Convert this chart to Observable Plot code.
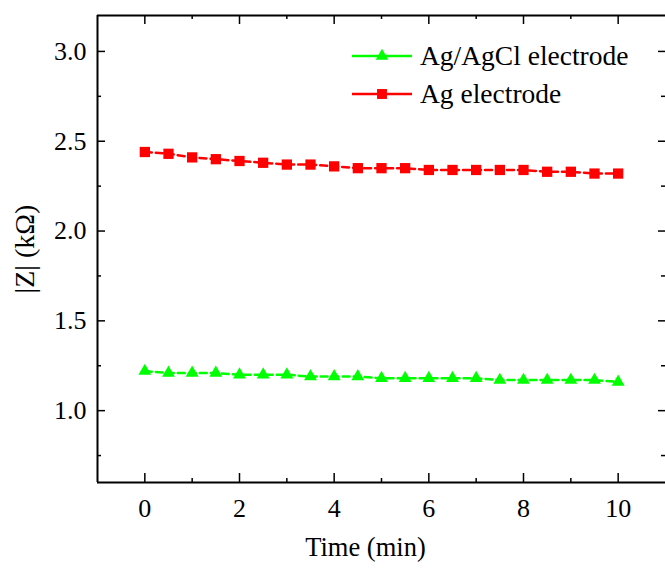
<!DOCTYPE html>
<html><head><meta charset="utf-8">
<script src="https://cdn.jsdelivr.net/npm/d3@7"></script>
<script src="https://cdn.jsdelivr.net/npm/@observablehq/plot@0.6"></script>
<style>
body{margin:0;background:#fff}
#wrap{position:relative;width:665px;height:568px}
#legend{position:absolute;left:0;top:0;pointer-events:none}
#wrap svg, #wrap svg text{font-family:"Liberation Serif","Times New Roman",serif !important;}
</style>
</head><body><div id="wrap"></div>
<script>
const time = [0,0.5,1,1.5,2,2.5,3,3.5,4,4.5,5,5.5,6,6.5,7,7.5,8,8.5,9,9.5,10];
const agagcl = [1.22,1.21,1.21,1.21,1.20,1.20,1.20,1.19,1.19,1.19,1.18,1.18,1.18,1.18,1.18,1.17,1.17,1.17,1.17,1.17,1.16];
const ag = [2.44,2.43,2.41,2.40,2.39,2.38,2.37,2.37,2.36,2.35,2.35,2.35,2.34,2.34,2.34,2.34,2.34,2.33,2.33,2.32,2.32];
const series = ["Ag/AgCl electrode","Ag electrode"];
const colors = ["#00ff00","#ff0000"];
const symbols = ["triangle","square"];
const xMajor = [0,2,4,6,8,10];
const xMinor = [1,3,5,7,9];
const yMajor = [1.0,1.5,2.0,2.5,3.0];
const yMinor = [0.75,1.25,1.75,2.25,2.75];
const xLabel = "Time (min)";
const yLabel = "|Z| (kΩ)";

const data = time.flatMap((t,i)=>[
  {t, z: agagcl[i], s: series[0]},
  {t, z: ag[i], s: series[1]}
]);

const W=665,H=568,mL=97,mR=0,mT=15,mB=86;
const fw = W-mL-mR, fh = H-mT-mB;
const font = "Liberation Serif";

const chart = Plot.plot({
  width: W, height: H,
  marginLeft: mL, marginRight: mR, marginTop: mT, marginBottom: mB,
  style: {fontFamily: font, fontSize: "26px", color: "#000", background: "#fff"},
  x: {domain: [-1, 11]},
  y: {domain: [0.6, 3.2]},
  color: {domain: series, range: colors},
  marks: [
    Plot.ruleX([-1], {stroke:"#000", strokeWidth:2}),
    Plot.ruleY([0.6, 3.2], {stroke:"#000", strokeWidth:2}),
    Plot.tickX(xMajor, {x:d=>d, insetTop: fh-9, stroke:"#000", strokeWidth:1.5}),
    Plot.tickX(xMinor, {x:d=>d, insetTop: fh-4, stroke:"#000", strokeWidth:1.5}),
    Plot.tickX(xMajor, {x:d=>d, insetBottom: fh-9, stroke:"#000", strokeWidth:1.5}),
    Plot.tickX(xMinor, {x:d=>d, insetBottom: fh-4, stroke:"#000", strokeWidth:1.5}),
    Plot.tickY(yMajor, {y:d=>d, insetRight: fw-8, stroke:"#000", strokeWidth:1.5}),
    Plot.tickY(yMinor, {y:d=>d, insetRight: fw-4, stroke:"#000", strokeWidth:1.5}),
    Plot.tickY(yMajor, {y:d=>d, insetLeft: fw-7, stroke:"#000", strokeWidth:1.5}),
    Plot.tickY(yMinor, {y:d=>d, insetLeft: fw-4, stroke:"#000", strokeWidth:1.5}),
    Plot.axisX(xMajor, {anchor:"bottom", tickSize:0, tickPadding:16, label:null, tickFormat:d=>String(d), fontSize:26}),
    Plot.axisY(yMajor, {anchor:"left", tickSize:0, tickPadding:11, label:null, tickFormat:d3.format(".1f"), fontSize:26}),
    Plot.text([xLabel], {frameAnchor:"bottom", dy:73, dx:-16, fontSize:26.5}),
    Plot.text([yLabel], {frameAnchor:"left", textAnchor:"middle", dx:-72, rotate:-90, fontSize:28}),
    Plot.line(data, {x:"t", y:"z", z:"s", stroke:"s", strokeWidth:2.5, strokeDasharray:"7,4"}),
    Plot.dot(data, {filter:d=>d.s===series[1], x:"t", y:"z", fill:"s", symbol:()=>symbols[1], r:5.8, stroke:"none"}),
    Plot.dot(data, {filter:d=>d.s===series[0], x:"t", y:"z", fill:"s", symbol:()=>symbols[0], r:4.8, stroke:"none"})
  ]
});
document.getElementById("wrap").appendChild(chart);

const lg = d3.select("#wrap").append("svg").attr("id","legend").attr("width",W).attr("height",H);
const ly = [56, 94];
series.forEach((s,i)=>{
  const g = lg.append("g");
  g.append("line").attr("x1",352).attr("x2",412).attr("y1",ly[i]).attr("y2",ly[i]).attr("stroke",colors[i]).attr("stroke-width",2.5);
  const sym = d3.symbol().type(i===0?d3.symbolTriangle:d3.symbolSquare).size(i===0?Math.PI*4.7*4.7:Math.PI*5.6*5.6);
  g.append("path").attr("d",sym()).attr("transform",`translate(382,${ly[i]})`).attr("fill",colors[i]);
  g.append("text").attr("x",420).attr("y",ly[i]).attr("dy","0.32em").attr("font-size",27.5).attr("fill","#000").text(s);
});
</script>
</body></html>
